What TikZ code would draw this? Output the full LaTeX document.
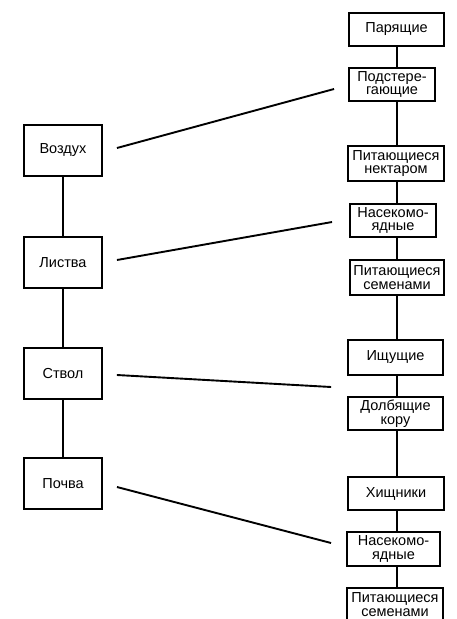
\documentclass[tikz,border=0pt]{standalone}
\usepackage{fontspec}
\setmainfont{Liberation Sans}
\usetikzlibrary{calc}
\tikzset{
  box/.style={draw, line width=1.9pt, rectangle, inner sep=0pt, align=center,
    font=\fontsize{14.5}{13.8}\selectfont},
  link/.style={line width=1.9pt}
}
\begin{document}
\begin{tikzpicture}[x=1pt,y=-1pt]
\useasboundingbox (0,0) rectangle (457,619);
% left column
\node[box, minimum width=78pt, minimum height=51pt] (l1) at (63,150.5) {Воздух};
\node[box, minimum width=78pt, minimum height=51pt] (l2) at (63,262.5) {Листва};
\node[box, minimum width=78pt, minimum height=51pt] (l3) at (63,373.5) {Ствол};
\node[box, minimum width=78pt, minimum height=51pt] (l4) at (63,483.5) {Почва};
% right column
\node[box, minimum width=95pt, minimum height=33pt] (r1) at (396.5,29.5) {Парящие};
\node[box, minimum width=86pt, minimum height=33pt] (r2) at (392,84.5) {Подстере-\\гающие};
\node[box, minimum width=96pt, minimum height=35pt] (r3) at (396,163.5) {Питающиеся\\нектаром};
\node[box, minimum width=86pt, minimum height=33pt] (r4) at (393,220.5) {Насекомо-\\ядные};
\node[box, minimum width=94pt, minimum height=35pt] (r5) at (397,277.5) {Питающиеся\\семенами};
\node[box, minimum width=95pt, minimum height=35pt] (r6) at (395.5,357.5) {Ищущие};
\node[box, minimum width=95pt, minimum height=33pt] (r7) at (395.5,413.5) {Долбящие\\кору};
\node[box, minimum width=96pt, minimum height=33pt] (r8) at (396,493.5) {Хищники};
\node[box, minimum width=93pt, minimum height=34pt] (r9) at (393.5,549) {Насекомо-\\ядные};
\node[box, minimum width=96pt, minimum height=33pt] (r10) at (395,604.5) {Питающиеся\\семенами};
% left vertical links
\draw[link] (l1.south) -- (l2.north);
\draw[link] (l2.south) -- (l3.north);
\draw[link] (l3.south) -- (l4.north);
% right vertical links
\foreach \a/\b in {r1/r2,r2/r3,r3/r4,r4/r5,r5/r6,r6/r7,r7/r8,r8/r9,r9/r10}{
  \draw[link] (397,0 |- \a.south) -- (397,0 |- \b.north);
}
% diagonal links
\coordinate (s1) at ($(l1.east)+(14,-2.5)$);
\coordinate (e1) at ($(r2.west)+(-14,4.5)$);
\coordinate (s2) at ($(l2.east)+(14,-2.5)$);
\coordinate (e2) at ($(r4.west)+(-17,1.5)$);
\coordinate (s3) at ($(l3.east)+(14,1.5)$);
\coordinate (e3) at ($(r6.west)+(-16,29.5)$);
\coordinate (s4) at ($(l4.east)+(14,3.5)$);
\coordinate (e4) at ($(r9.west)+(-15,-6)$);
\draw[link] (s1) -- (e1);
\draw[link] (s2) -- (e2);
\draw[link] (s3) -- (e3);
\draw[link] (s4) -- (e4);
\end{tikzpicture}
\end{document}
